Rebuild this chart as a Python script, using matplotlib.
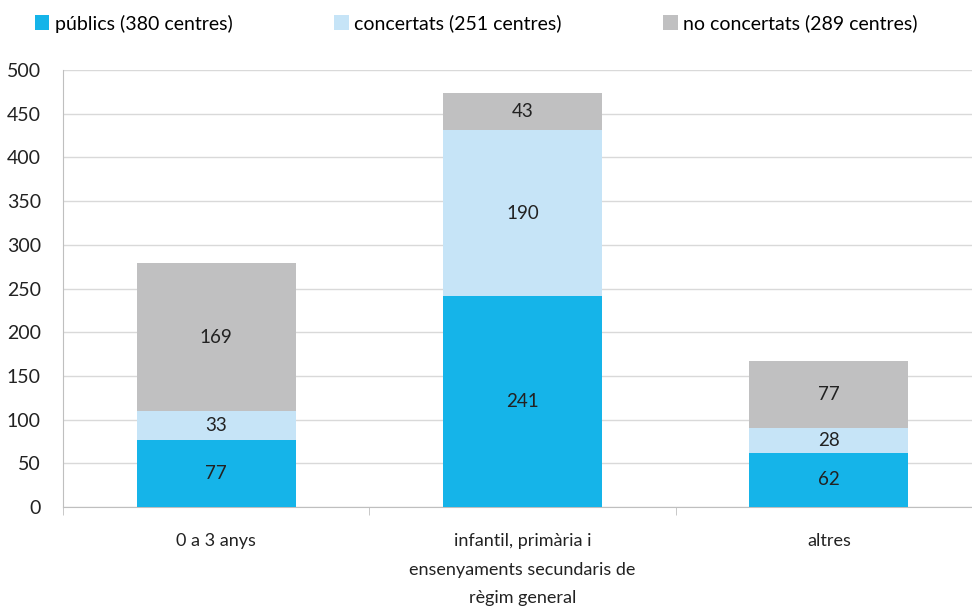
import matplotlib
matplotlib.use("Agg")
import matplotlib.pyplot as plt
import numpy as np

categories = ["0 a 3 anys", "infantil, primària i\nensenyaments secundaris de\nrègim general", "altres"]
publics = [77, 241, 62]
concertats = [33, 190, 28]
no_concertats = [169, 43, 77]
series_names = ["públics (380 centres)", "concertats (251 centres)", "no concertats (289 centres)"]
colors = ["#15B4E9", "#C6E4F7", "#C0C0C1"]
yticks = [0, 50, 100, 150, 200, 250, 300, 350, 400, 450, 500]

plt.rcParams['font.family'] = ['Lato', 'DejaVu Sans']

fig = plt.figure(figsize=(9.72, 6.09), dpi=100)
ax = fig.add_axes([63/972, 1-507/609, 919/972, 437/609])

x = np.arange(len(categories))
w = 0.52
bottom = np.zeros(len(categories))
handles = []
for vals, c, name in zip([publics, concertats, no_concertats], colors, series_names):
    b = ax.bar(x, vals, w, bottom=bottom, color=c, label=name, zorder=3)
    handles.append(b)
    for xi, v, bt in zip(x, vals, bottom):
        ax.text(xi, bt + v/2, str(v), ha='center', va='center', fontsize=13.5, color='#222222', zorder=4)
    bottom += np.array(vals)

ax.set_xlim(-0.5, len(categories)-0.5)
ax.set_ylim(0, 500)
ax.set_yticks(yticks)
ax.set_yticklabels([str(t) for t in yticks], fontsize=14, color='#222222')
ax.set_xticks(x)
ax.set_xticklabels(categories, fontsize=13, color='#222222', linespacing=1.95)
ax.yaxis.grid(True, color='#D9D9D9', linewidth=1, zorder=0)
ax.set_axisbelow(True)
for s in ['top', 'right']:
    ax.spines[s].set_visible(False)
ax.spines['left'].set_color('#BFBFBF')
ax.spines['bottom'].set_color('#BFBFBF')
ax.tick_params(axis='y', length=0, pad=16)
ax.tick_params(axis='x', length=0, pad=19)
ax.set_xticks(np.arange(-0.5, len(categories), 1), minor=True)
ax.tick_params(axis='x', which='minor', length=6, color='#BFBFBF')

fig.legend(handles=handles, labels=series_names, loc='upper center', bbox_to_anchor=(0.49, 1.005),
           ncol=3, frameon=False, fontsize=14, handlelength=0.75, handleheight=0.8,
           handletextpad=0.3, columnspacing=5.2)

fig.savefig("out.png", dpi=100)
